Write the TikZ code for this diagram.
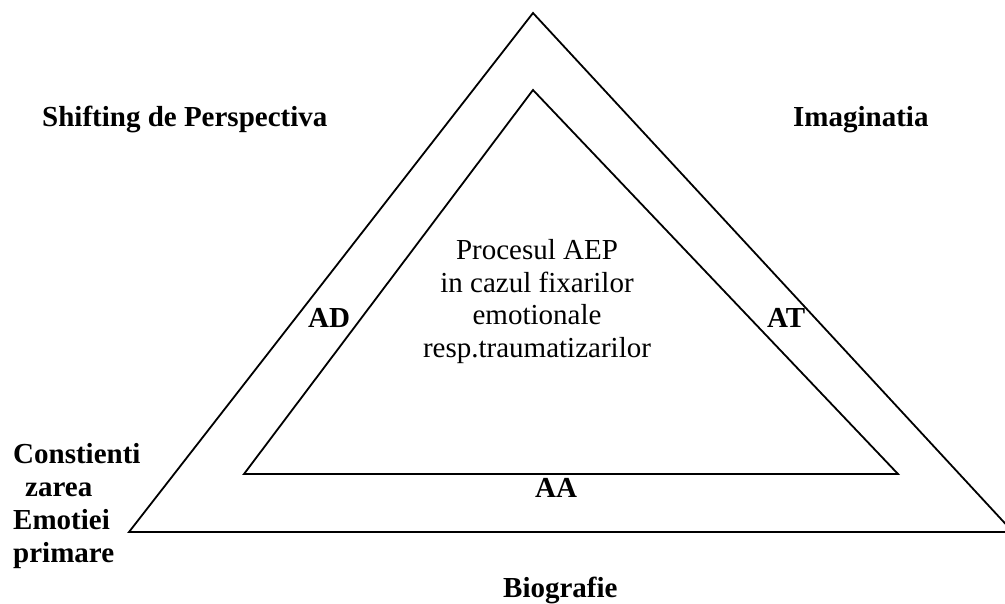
\documentclass[tikz,border=0pt]{standalone}
\usepackage{fontspec}
\setmainfont{Liberation Serif}

\begin{document}
\begin{tikzpicture}[x=1pt,y=-1pt,
  txt/.style={inner sep=0pt,align=center,font=\fontsize{29}{32.5}\selectfont},
  lbl/.style={inner sep=0pt,font=\fontsize{29}{33}\selectfont\bfseries}]
\useasboundingbox (0,0) rectangle (1005,604);
% Triangles
\coordinate (ext1) at (533,13);
\coordinate (ext2) at (129,532);
\coordinate (ext3) at (1013,532);
\coordinate (int1) at (533,90);
\coordinate (int2) at (244,474);
\coordinate (int3) at (898,474);
\draw [line width=1.8pt] (ext1) -- (ext2) -- (ext3) -- cycle;
\draw [line width=1.8pt] (int1) -- (int2) -- (int3) -- cycle;
% Textes
\node [txt,anchor=base] (proc) at (537,357) {Procesul AEP\\ in cazul fixarilor\\ emotionale\\ resp.traumatizarilor};
\node [lbl,anchor=base west] (shift) at (42,127) {Shifting de Perspectiva};
\node [lbl,anchor=base west] (imag) at (793,127) {Imaginatia};
\node [lbl,anchor=base west,align=left] (const) at (13,562) {Constienti\\ \hspace*{12pt}zarea\\ Emotiei\\ primare};
\node [lbl,anchor=base west] (ad) at (308,327) {AD};
\node [lbl,anchor=base west] (at) at (767,327) {AT};
\node [lbl,anchor=base west] (aa) at (535,497) {AA};
\node [lbl,anchor=base west] (bio) at (503,597) {Biografie};
\end{tikzpicture}
\end{document}
